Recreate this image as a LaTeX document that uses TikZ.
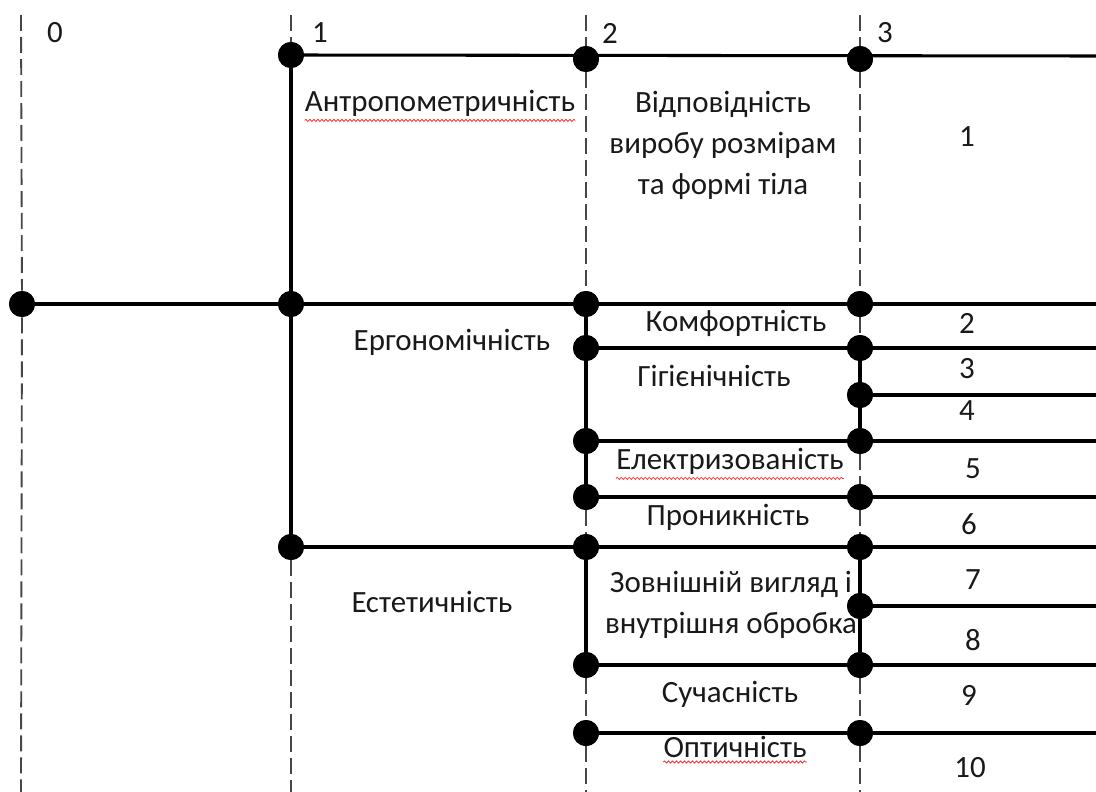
\documentclass[tikz,border=0pt]{standalone}
\usepackage{fontspec}
\setmainfont{Carlito}
\usetikzlibrary{decorations.pathmorphing}
\tikzset{
  dot/.style={circle,fill=black,inner sep=0pt,minimum size=19.5pt},
  bar/.style={line width=2.3pt,black},
  guide/.style={line width=1.4pt,gray!55!black,dash pattern=on 12pt off 4.5pt},
  txt/.style={font=\fontsize{23.2}{30.75}\selectfont,text=black!90,inner sep=0pt},
  ml/.style={txt,align=center},
  wavy/.style={red!80,line width=0.6pt,decorate,decoration={snake,amplitude=0.8pt,segment length=3pt}}
}
\begin{document}
\begin{tikzpicture}[x=0.75pt,y=-0.75pt]
\useasboundingbox (0,0) rectangle (1096,792);
% guide top and bottom coordinates
\foreach \n/\x in {0/21,1/291,2/586,3/860}{
  \coordinate (top\n) at (\x,15);
  \coordinate (bot\n) at (\x,792);
}
% dots
\node[dot] (a1) at (291,55) {};
\node[dot] (a2) at (586,59) {};
\node[dot] (a3) at (860,59) {};
\coordinate (aE) at (1096,56);
\node[dot] (b0) at (22,304) {};
\node[dot] (b1) at (291,304) {};
\node[dot] (b2) at (586,304) {};
\node[dot] (b3) at (860,304) {};
\coordinate (bE) at (1096,304);
\node[dot] (c2) at (586,348) {};
\node[dot] (c3) at (860,348) {};
\coordinate (cE) at (1096,348);
\node[dot] (d3) at (860,395) {};
\coordinate (dE) at (1096,395);
\node[dot] (e2) at (586,441) {};
\node[dot] (e3) at (860,441) {};
\coordinate (eE) at (1096,441);
\node[dot] (f2) at (586,497) {};
\node[dot] (f3) at (860,497) {};
\coordinate (fE) at (1096,497);
\node[dot] (g1) at (291,547) {};
\node[dot] (g2) at (586,547) {};
\node[dot] (g3) at (860,547) {};
\coordinate (gE) at (1096,547);
\node[dot] (h3) at (860,606) {};
\coordinate (hE) at (1096,606);
\node[dot] (i2) at (586,665) {};
\node[dot] (i3) at (860,665) {};
\coordinate (iE) at (1096,665);
\node[dot] (j2) at (586,733) {};
\node[dot] (j3) at (860,733) {};
\coordinate (jE) at (1096,733);

% dashed guides
\draw[guide] (top0) -- (b0);
\draw[guide] (b0) -- (bot0);
\draw[guide] (top1) -- (a1);
\draw[guide] (g1) -- (bot1);
\draw[guide] (top2) -- (a2);
\draw[guide] (a2) -- (b2);
\draw[guide] (f2) -- (g2);
\draw[guide] (i2) -- (j2);
\draw[guide] (j2) -- (bot2);
\draw[guide] (top3) -- (a3);
\draw[guide] (a3) -- (b3);
\draw[guide] (b3) -- (c3);
\draw[guide] (e3) -- (f3);
\draw[guide] (f3) -- (g3);
\draw[guide] (i3) -- (j3);
\draw[guide] (j3) -- (bot3);

% solid horizontal lines
\draw[bar] (a1.center) -- (aE);
\draw[bar] (b0.center) -- (b1.center) -- (b2.center) -- (b3.center) -- (bE);
\draw[bar] (c2.center) -- (c3.center) -- (cE);
\draw[bar] (d3.center) -- (dE);
\draw[bar] (e2.center) -- (e3.center) -- (eE);
\draw[bar] (f2.center) -- (f3.center) -- (fE);
\draw[bar] (g1.center) -- (g2.center) -- (g3.center) -- (gE);
\draw[bar] (h3.center) -- (hE);
\draw[bar] (i2.center) -- (i3.center) -- (iE);
\draw[bar] (j2.center) -- (j3.center) -- (jE);
% solid vertical lines
\draw[bar] (a1.center) -- (b1.center) -- (g1.center);
\draw[bar] (b2.center) -- (c2.center) -- (e2.center) -- (f2.center);
\draw[bar] (g2.center) -- (i2.center);
\draw[bar] (c3.center) -- (d3.center) -- (e3.center);
\draw[bar] (g3.center) -- (h3.center) -- (i3.center);
% redraw dots on top
\foreach \d in {a1,a2,a3,b0,b1,b2,b3,c2,c3,d3,e2,e3,f2,f3,g1,g2,g3,h3,i2,i3,j2,j3}
  \fill (\d) circle (9.75pt);

% column labels
\node[txt] (l0) at (55,33) {0};
\node[txt] (l1) at (320,33) {1};
\node[txt] (l2) at (610,33) {2};
\node[txt] (l3) at (885,33) {3};

% texts
\node[txt] (t1) at (440,103) {Антропометричність};
\draw[wavy] ([yshift=-3pt]t1.south west) -- ([yshift=-3pt]t1.south east);
\node[ml] (t2) at (723,145) {Відповідність\\виробу розмірам\\та формі тіла};
\node[txt] (n1) at (967,137) {1};
\node[txt] (t3) at (452,342) {Ергономічність};
\node[txt] (t4) at (736,323) {Комфортність};
\node[txt] (n2) at (967,323) {2};
\node[txt] (t5) at (714,376) {Гігієнічність};
\node[txt] (n3) at (967,369) {3};
\node[txt] (n4) at (967,411) {4};
\node[txt] (t6) at (730,461) {Електризованість};
\draw[wavy] ([yshift=-3pt]t6.south west) -- ([yshift=-3pt]t6.south east);
\node[txt] (n5) at (973,469) {5};
\node[txt] (t7) at (728,517) {Проникність};
\node[txt] (n6) at (969,524) {6};
\node[txt] (t8) at (432,602) {Естетичність};
\node[ml] (t9) at (731,605) {Зовнішній вигляд і\\внутрішня обробка};
\node[txt] (n7) at (973,580) {7};
\node[txt] (n8) at (973,640) {8};
\node[txt] (t10) at (730,694) {Сучасність};
\node[txt] (n9) at (969,695) {9};
\node[txt] (t11) at (735,747) {Оптичність};
\draw[wavy] ([yshift=-3pt]t11.south west) -- ([yshift=-3pt]t11.south east);
\node[txt] (n10) at (970,768) {10};
\end{tikzpicture}
\end{document}
